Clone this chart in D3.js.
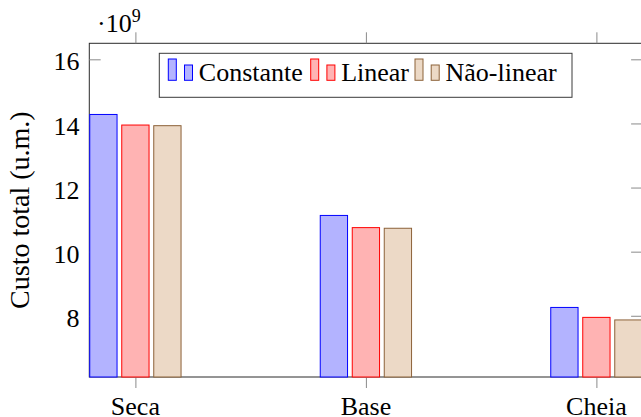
<!DOCTYPE html>
<html>
<head>
<meta charset="utf-8">
<script src="https://cdn.jsdelivr.net/npm/d3@7"></script>
<style>
  html, body { margin: 0; padding: 0; background: #fff; }
  svg { display: block; }
</style>
</head>
<body>
<svg id="chart" width="641" height="417"></svg>
<script>
// values in units of 10^9
const categories = ["Seca", "Base", "Cheia"];
const seriesNames = ["Constante", "Linear", "Não-linear"];
const constante = [14.28, 11.13, 8.26];
const linear = [13.95, 10.75, 7.95];
const naoLinear = [13.93, 10.73, 7.87];
const yTicks = [8, 10, 12, 14, 16];
const yLabel = "Custo total (u.m.)";

const fills = ["#b3b3ff", "#ffb3b3", "#ecd9c6"];
const strokes = ["#0000ff", "#ff0000", "#8c6239"];
const serif = "'Liberation Serif'";

const svg = d3.select("#chart");

// plot frame (right edge runs just past the window, as in the picture)
const plotL = 89.3, plotR = 642.5, plotT = 43.3, plotB = 377;

const x = d3.scalePoint().domain(categories).range([plotL, plotR]).padding(0.2);
const xSub = d3.scaleBand().domain(seriesNames).range([-45.65, 45.65]).paddingInner(0.147);
const y = d3.scaleLinear().domain([6.09, 16.5]).range([plotB, plotT]);

const tickColor = "#8a8a8a";
const axisColor = "#2b2b2b";

// frame
svg.append("rect")
    .attr("x", plotL).attr("y", plotT)
    .attr("width", plotR - plotL).attr("height", plotB - plotT)
    .attr("fill", "none").attr("stroke", axisColor).attr("stroke-width", 1);

// y ticks, left and right, pointing inward
let yAxisL = svg.append("g").attr("transform", "translate(" + plotL + ",0)")
    .call(d3.axisRight(y).tickValues(yTicks).tickSize(11.4).tickFormat(""));
let yAxisR = svg.append("g").attr("transform", "translate(" + plotR + ",0)")
    .call(d3.axisLeft(y).tickValues(yTicks).tickSize(11.4).tickFormat(""));
// x ticks, bottom and top, pointing outward
let xAxisB = svg.append("g").attr("transform", "translate(0," + plotB + ")")
    .call(d3.axisBottom(x).tickSize(11).tickFormat(""));
let xAxisT = svg.append("g").attr("transform", "translate(0," + plotT + ")")
    .call(d3.axisTop(x).tickSize(11).tickFormat(""));
for (let a of [yAxisL, yAxisR, xAxisB, xAxisT]) {
    a.select(".domain").remove();
    a.selectAll(".tick line").attr("stroke", tickColor).attr("stroke-width", 1);
}

// y tick labels
svg.append("g").selectAll("text")
    .data(yTicks)
    .enter()
    .append("text")
    .style("font-family", serif)
    .attr("x", 79.5)
    .attr("y", d => y(d) + 2)
    .attr("dy", "0.35em")
    .attr("text-anchor", "end")
    .attr("font-size", 26)
    .text(d => d);

// x tick labels
svg.append("g").selectAll("text")
    .data(categories)
    .enter()
    .append("text")
    .style("font-family", serif)
    .attr("x", d => x(d))
    .attr("y", 414.5)
    .attr("text-anchor", "middle")
    .attr("font-size", 26)
    .text(d => d);

// scale factor label
let sf = svg.append("text").style("font-family", serif)
    .attr("x", 97).attr("y", 31.5).attr("font-size", 26);
sf.append("tspan").text("·10");
sf.append("tspan").attr("font-size", 18).attr("dy", -10).text("9");

// y axis label
svg.append("text")
    .style("font-family", serif)
    .attr("transform", "translate(28.5," + ((plotT + plotB) / 2) + ") rotate(-90)")
    .attr("text-anchor", "middle")
    .attr("font-size", 28)
    .text(yLabel);

// bars
const seriesData = [constante, linear, naoLinear];
seriesData.forEach((vals, s) => {
    svg.append("g").selectAll("rect")
        .data(vals)
        .enter()
        .append("rect")
        .attr("x", (d, i) => x(categories[i]) + xSub(seriesNames[s]))
        .attr("y", d => y(d))
        .attr("width", xSub.bandwidth())
        .attr("height", d => y.range()[0] - y(d))
        .attr("fill", fills[s])
        .attr("stroke", strokes[s])
        .attr("stroke-width", 1);
});

// legend
const lg = svg.append("g");
lg.append("rect")
    .attr("x", 159.3).attr("y", 53.3)
    .attr("width", 572 - 159.3).attr("height", 97.3 - 53.3)
    .attr("fill", "#fff").attr("stroke", "#3a3a3a").attr("stroke-width", 1);

const legendX = [168.3, 310.7, 415];
seriesNames.forEach((name, s) => {
    let gx = legendX[s];
    lg.append("rect")
        .attr("x", gx).attr("y", 59).attr("width", 8).attr("height", 21.3)
        .attr("fill", fills[s]).attr("stroke", strokes[s]);
    lg.append("rect")
        .attr("x", gx + 16.2).attr("y", 65).attr("width", 8).attr("height", 15.3)
        .attr("fill", fills[s]).attr("stroke", strokes[s]);
    lg.append("text")
        .style("font-family", serif)
        .attr("x", gx + 30.5)
        .attr("y", 81)
        .attr("font-size", 26)
        .text(name);
});
</script>
</body>
</html>
